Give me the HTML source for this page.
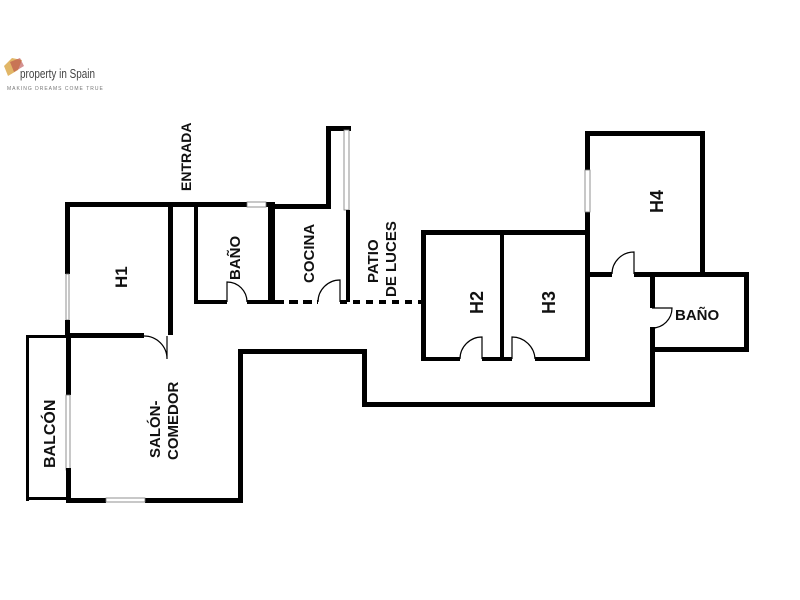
<!DOCTYPE html>
<html><head><meta charset="utf-8"><style>
html,body{margin:0;padding:0;background:#fff;}
svg{display:block;}
text{font-family:"Liberation Sans",sans-serif;font-weight:bold;fill:#111;}
</style></head><body>
<svg width="800" height="600" viewBox="0 0 800 600" xmlns="http://www.w3.org/2000/svg">
<!-- logo -->
<g>
<path d="M4 66 L12 58 L22 60 L18 70 L8 76 Z" fill="#d9a441" opacity="0.8"/>
<path d="M10 62 L20 58 L24 66 L14 72 Z" fill="#b84a4a" opacity="0.6"/>
<text x="20" y="78" style="font-weight:normal;font-size:13px;fill:#444;" textLength="75" lengthAdjust="spacingAndGlyphs">property in Spain</text>
<text x="7" y="90" style="font-weight:normal;font-size:5px;fill:#777;letter-spacing:1px">MAKING DREAMS COME TRUE</text>
</g>
<g fill="#000">
<!-- top wall -->
<rect x="65" y="202" width="182" height="5"/>
<rect x="266" y="202" width="8" height="5"/>
<rect x="247" y="202" width="19" height="5" fill="#fff" stroke="#777" stroke-width="0.8"/>
<!-- H1 -->
<rect x="65" y="202" width="5" height="72"/>
<rect x="66" y="274" width="3" height="46" fill="#fff" stroke="#777" stroke-width="0.8"/>
<rect x="65" y="320" width="5" height="18"/>
<rect x="168" y="202" width="5" height="133"/>
<rect x="68" y="333" width="76" height="5"/>
<!-- Baño -->
<rect x="194" y="205" width="4" height="99"/>
<rect x="194" y="300" width="33" height="4"/>
<rect x="247" y="300" width="26" height="4"/>
<rect x="268" y="202" width="7" height="102"/>
<!-- Cocina -->
<rect x="273" y="204" width="57" height="5"/>
<rect x="326" y="126" width="5" height="83"/>
<rect x="326" y="126" width="25" height="5"/>
<rect x="344" y="130" width="5" height="80" fill="#fff" stroke="#777" stroke-width="0.8"/>
<rect x="346" y="210" width="4" height="92"/>
<!-- dashed bottom of cocina + patio -->
<line x1="275" y1="302" x2="318" y2="302" stroke="#000" stroke-width="4" stroke-dasharray="9 5"/>
<line x1="340" y1="302" x2="424" y2="302" stroke="#000" stroke-width="4" stroke-dasharray="7 6"/>
<!-- H2/H3 -->
<rect x="421" y="230" width="168" height="5"/>
<rect x="421" y="230" width="5" height="131"/>
<rect x="500" y="230" width="4" height="131"/>
<rect x="585" y="133" width="5" height="228"/>
<rect x="421" y="357" width="39" height="4"/>
<rect x="482" y="357" width="30" height="4"/>
<rect x="535" y="357" width="54" height="4"/>
<!-- H4 -->
<rect x="585" y="131" width="119" height="5"/>
<rect x="585" y="170" width="5" height="42" fill="#fff" stroke="#777" stroke-width="0.8"/>
<rect x="700" y="131" width="5" height="146"/>
<rect x="587" y="272" width="25" height="5"/>
<rect x="634" y="272" width="115" height="5"/>
<!-- Baño right -->
<rect x="744" y="272" width="5" height="80"/>
<rect x="650" y="347" width="99" height="5"/>
<rect x="650" y="272" width="5" height="36"/>
<rect x="650" y="327" width="5" height="80"/>
<!-- corridor -->
<rect x="362" y="402" width="293" height="5"/>
<rect x="362" y="349" width="5" height="58"/>
<rect x="238" y="349" width="129" height="5"/>
<rect x="238" y="349" width="5" height="153"/>
<!-- Salon -->
<rect x="66" y="333" width="5" height="62"/>
<rect x="66" y="395" width="4" height="75" fill="#fff" stroke="#777" stroke-width="0.8"/>
<rect x="66" y="468" width="5" height="34"/>
<rect x="66" y="498" width="40" height="5"/>
<rect x="145" y="498" width="98" height="5"/>
<rect x="106" y="498" width="39" height="4" fill="#fff" stroke="#777" stroke-width="0.8"/>
<!-- balcony -->
<rect x="28" y="335" width="40" height="3"/>
<rect x="26" y="335" width="3" height="166"/>
<rect x="26" y="497" width="42" height="3"/>
</g>
<!-- doors -->
<g fill="none" stroke="#000" stroke-width="1.2">
<path d="M144 336 A23 23 0 0 1 167 359 L167 336"/>
<path d="M227 302 L227 282 A20 20 0 0 1 247 302"/>
<path d="M318 302 A22 22 0 0 1 340 280 L340 302"/>
<path d="M460 359 A22 22 0 0 1 482 337 L482 359"/>
<path d="M512 359 L512 337 A23 23 0 0 1 535 359"/>
<path d="M612 274 A22 22 0 0 1 634 252 L634 274"/>
<path d="M652 308 L672 308 A20 20 0 0 1 652 328"/>
</g>
<!-- labels -->
<g font-size="15">
<text transform="translate(191,191) rotate(-90)" font-size="14">ENTRADA</text>
<text transform="translate(127,288) rotate(-90)" font-size="17">H1</text>
<text transform="translate(240,280) rotate(-90)" font-size="15">BAÑO</text>
<text transform="translate(314,283) rotate(-90)" font-size="15">COCINA</text>
<text transform="translate(378,283) rotate(-90)" font-size="15">PATIO</text>
<text transform="translate(396,297) rotate(-90)" font-size="15">DE LUCES</text>
<text transform="translate(483,314) rotate(-90)" font-size="18">H2</text>
<text transform="translate(555,314) rotate(-90)" font-size="18">H3</text>
<text transform="translate(663,213) rotate(-90)" font-size="18">H4</text>
<text x="675" y="320" font-size="15">BAÑO</text>
<text transform="translate(160,458) rotate(-90)" font-size="15">SALÓN-</text>
<text transform="translate(178,460) rotate(-90)" font-size="15">COMEDOR</text>
<text transform="translate(55,468) rotate(-90)" font-size="16">BALCÓN</text>
</g>
</svg>
</body></html>
